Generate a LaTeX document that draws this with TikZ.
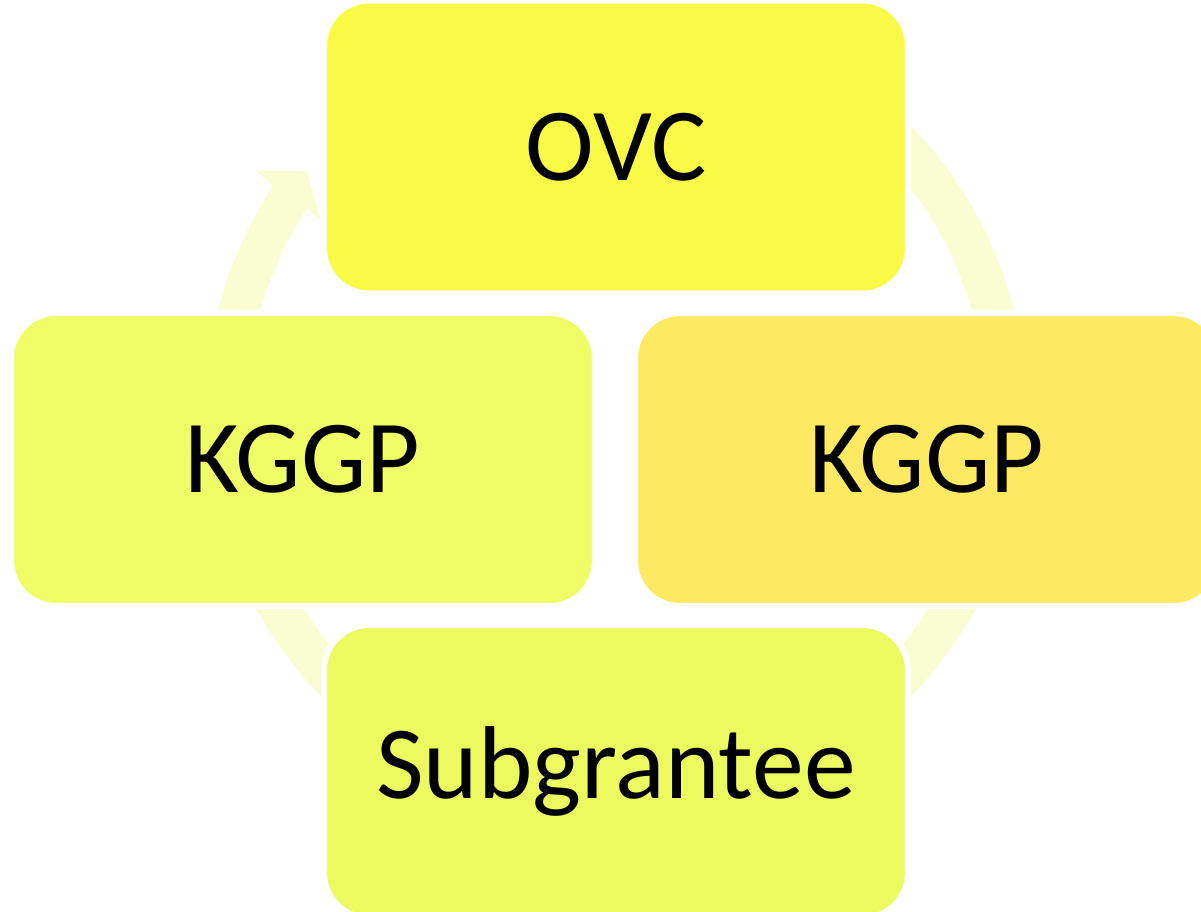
\documentclass[tikz,border=0pt]{standalone}
\usepackage{fontspec}
\setmainfont{Carlito}
\definecolor{ovcyellow}{HTML}{F8FA45}
\definecolor{kggpleft}{HTML}{EFFD67}
\definecolor{kggpright}{HTML}{FDE962}
\definecolor{subyellow}{HTML}{EBFA5E}
\definecolor{ringyellow}{HTML}{FAFCD2}
\tikzset{cyclebox/.style={rectangle,rounded corners=0.9cm,draw=white,line width=0.12cm,minimum width=11.68cm,minimum height=5.86cm,font=\fontsize{59}{70}\selectfont}}
\tikzset{ring/.style={draw=ringyellow,line width=0.82cm}}
\newcommand{\cyclebox}[4][]{\node[cyclebox,#1] at (#2) (#3) {#4}}

\begin{document}
\begin{tikzpicture}[x=0.02cm,y=0.02cm]
		\useasboundingbox (0,0) rectangle (1201,-912);
		\clip (0,0) rectangle (1201,-912);
		
		\begin{scope}[shift={(616,-411)}]
			\draw[ring] (62:390) arc[start angle=62,end angle=0,radius=390];
			\draw[ring] (-10:390) arc[start angle=-10,end angle=-70,radius=390];
			\draw[ring] (-110:390) arc[start angle=-110,end angle=-170,radius=390];
			\draw[ring] (190:390) arc[start angle=190,end angle=146.2,radius=390];
			\fill[ringyellow] (146.7:411) -- (146.3:434) -- (142.2:391)
			-- (147.2:351) -- (146.7:370) -- cycle;
		\end{scope}
		
		\cyclebox[fill=ovcyellow]{616,-147}{ovc}{OVC};
		\cyclebox[fill=kggpleft]{303,-459.5}{kggp left}{KGGP};
		\cyclebox[fill=kggpright]{927,-459.5}{kggp right}{KGGP};
		\cyclebox[fill=subyellow]{616,-771.5}{subgrantee}{Subgrantee};
	\end{tikzpicture}
\end{document}
